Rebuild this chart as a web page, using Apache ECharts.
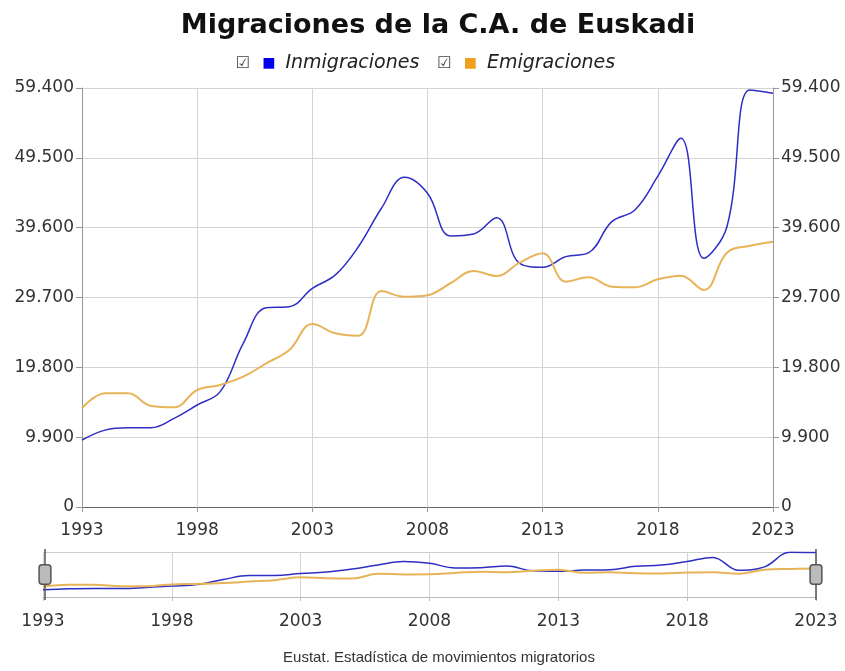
<!DOCTYPE html>
<html>
<head>
<meta charset="utf-8">
<script src="https://cdn.jsdelivr.net/npm/echarts@6/dist/echarts.min.js"></script>
<style>
  html, body { margin: 0; padding: 0; background: #fff; }
  #chart { width: 845px; height: 671px; }
</style>
</head>
<body>
<div id="chart"></div>
<script>
  // datos anuales
  var years = ['1993', '1994', '1995', '1996', '1997', '1998', '1999', '2000', '2001', '2002',
    '2003', '2004', '2005', '2006', '2007', '2008', '2009', '2010', '2011', '2012',
    '2013', '2014', '2015', '2016', '2017', '2018', '2019', '2020', '2021', '2022', '2023']
  var inmigraciones = [9500, 10900, 11240, 11240, 12570, 14460, 16350, 23200, 28260, 28400,
    31000, 32900, 36900, 42350, 46740, 44470, 38420, 38700, 41000, 34550,
    33980, 35490, 36050, 40450, 42100, 46900, 52270, 35250, 39740, 59100, 58650]
  var emigraciones = [13990, 16120, 16120, 14320, 14130, 16590, 17300, 18470, 20370, 22260,
    25940, 24620, 24290, 30620, 29820, 30030, 31720, 33460, 32750, 34640,
    35960, 31950, 32560, 31230, 31140, 32280, 32800, 30760, 36050, 37040, 37610]
  var yTicks = [0, 9900, 19800, 29700, 39600, 49500, 59400]

  var font = 'DejaVu Sans'
  var blue = '#2e2ec4'
  var orange = '#e8b45a'

  function miles(v) {
    return String(v).replace(/\B(?=(\d{3})+(?!\d))/g, '.')
  }

  var chart = echarts.init(document.getElementById('chart'))

  var yBase = {
    type: 'value',
    min: yTicks[0],
    max: yTicks[yTicks.length - 1],
    interval: yTicks[1] - yTicks[0],
    axisLine: { show: true, lineStyle: { color: '#999' } },
    axisTick: { show: true, length: 6, lineStyle: { color: '#999' } },
    axisLabel: { color: '#333', fontFamily: font, fontSize: 17, margin: 8, formatter: miles },
    splitLine: { show: true, lineStyle: { color: '#d4d4d4' } }
  }

  chart.setOption({
    animation: false,
    title: [
      {
        text: 'Migraciones de la C.A. de Euskadi',
        left: 433,
        textAlign: 'center',
        top: 7,
        textStyle: { fontFamily: font, fontSize: 27, fontWeight: 'bold', color: '#111' }
      },
      {
        text: 'Eustat. Estadística de movimientos migratorios',
        left: 434,
        textAlign: 'center',
        bottom: 1,
        textStyle: { fontFamily: 'Liberation Sans', fontSize: 15, fontWeight: 'normal', color: '#333' }
      }
    ],
    legend: {
      top: 49,
      left: 'center',
      itemWidth: 0,
      itemHeight: 0,
      itemGap: 12,
      data: ['Inmigraciones', 'Emigraciones'],
      formatter: function (name) {
        var sq = name === 'Inmigraciones' ? 'sqA' : 'sqB'
        return '{cb|☑}{' + sq + '|■}{t|' + name + '}'
      },
      textStyle: {
        rich: {
          cb: { fontFamily: font, fontSize: 16, color: '#444', padding: [0, 12, 0, 0] },
          sqA: { fontFamily: font, fontSize: 14, color: '#0000ee', padding: [0, 10, 0, 0] },
          sqB: { fontFamily: font, fontSize: 14, color: '#f0a020', padding: [0, 10, 0, 0] },
          t: { fontFamily: font, fontSize: 19, fontStyle: 'italic', color: '#222' }
        }
      }
    },
    grid: [
      { left: 82, right: 72, top: 88, bottom: 164 },
      { left: 43, right: 29, top: 552, height: 45 }
    ],
    xAxis: [
      {
        type: 'category',
        gridIndex: 0,
        data: years,
        boundaryGap: false,
        axisLine: { lineStyle: { color: '#666' } },
        axisTick: { show: true, interval: 4, length: 5, lineStyle: { color: '#999' } },
        axisLabel: { interval: 4, color: '#333', fontFamily: font, fontSize: 17, margin: 15 },
        splitLine: { show: true, interval: 4, lineStyle: { color: '#d4d4d4' } }
      },
      {
        type: 'category',
        gridIndex: 1,
        data: years,
        boundaryGap: false,
        axisLine: { lineStyle: { color: '#bbb' } },
        axisTick: { show: true, interval: 4, length: 4, lineStyle: { color: '#bbb' } },
        axisLabel: { interval: 4, color: '#333', fontFamily: font, fontSize: 17, margin: 16 },
        splitLine: { show: true, interval: 4, lineStyle: { color: '#d4d4d4' } }
      }
    ],
    yAxis: [
      Object.assign({}, yBase, { gridIndex: 0, position: 'left' }),
      Object.assign({}, yBase, { gridIndex: 0, position: 'right', splitLine: { show: false } }),
      {
        type: 'value',
        gridIndex: 1,
        min: 0,
        max: 59400,
        interval: 59400,
        axisLine: { show: false },
        axisTick: { show: false },
        axisLabel: { show: false },
        splitLine: { show: true, lineStyle: { color: '#ccc' } }
      }
    ],
    dataZoom: [
      {
        type: 'slider',
        xAxisIndex: 0,
        start: 0,
        end: 100,
        left: 43,
        right: 29,
        top: 549,
        height: 51,
        showDataShadow: false,
        showDetail: false,
        brushSelect: false,
        moveHandleSize: 0,
        backgroundColor: 'rgba(0,0,0,0)',
        fillerColor: 'rgba(0,0,0,0)',
        borderColor: 'rgba(0,0,0,0)',
        handleSize: '100%',
        handleIcon: 'path://M0,0V16M0,36V52M-3,16h6a3,3,0,0,1,3,3v14a3,3,0,0,1,-3,3h-6a3,3,0,0,1,-3,-3v-14a3,3,0,0,1,3,-3Z',
        handleStyle: { color: '#bbb', borderColor: '#555', borderWidth: 1.5 }
      }
    ],
    series: [
      {
        name: 'Inmigraciones',
        type: 'line',
        xAxisIndex: 0,
        yAxisIndex: 0,
        data: inmigraciones,
        smooth: 0.4,
        showSymbol: false,
        lineStyle: { color: blue, width: 1.5 },
        itemStyle: { color: blue }
      },
      {
        name: 'Emigraciones',
        type: 'line',
        xAxisIndex: 0,
        yAxisIndex: 1,
        data: emigraciones,
        smooth: 0.4,
        showSymbol: false,
        lineStyle: { color: orange, width: 2 },
        itemStyle: { color: orange }
      },
      {
        name: 'Inmigraciones',
        type: 'line',
        xAxisIndex: 1,
        yAxisIndex: 2,
        data: inmigraciones,
        smooth: 0.4,
        showSymbol: false,
        lineStyle: { color: blue, width: 1.5 },
        itemStyle: { color: blue }
      },
      {
        name: 'Emigraciones',
        type: 'line',
        xAxisIndex: 1,
        yAxisIndex: 2,
        data: emigraciones,
        smooth: 0.4,
        showSymbol: false,
        lineStyle: { color: orange, width: 2 },
        itemStyle: { color: orange }
      }
    ]
  })
</script>
</body>
</html>
